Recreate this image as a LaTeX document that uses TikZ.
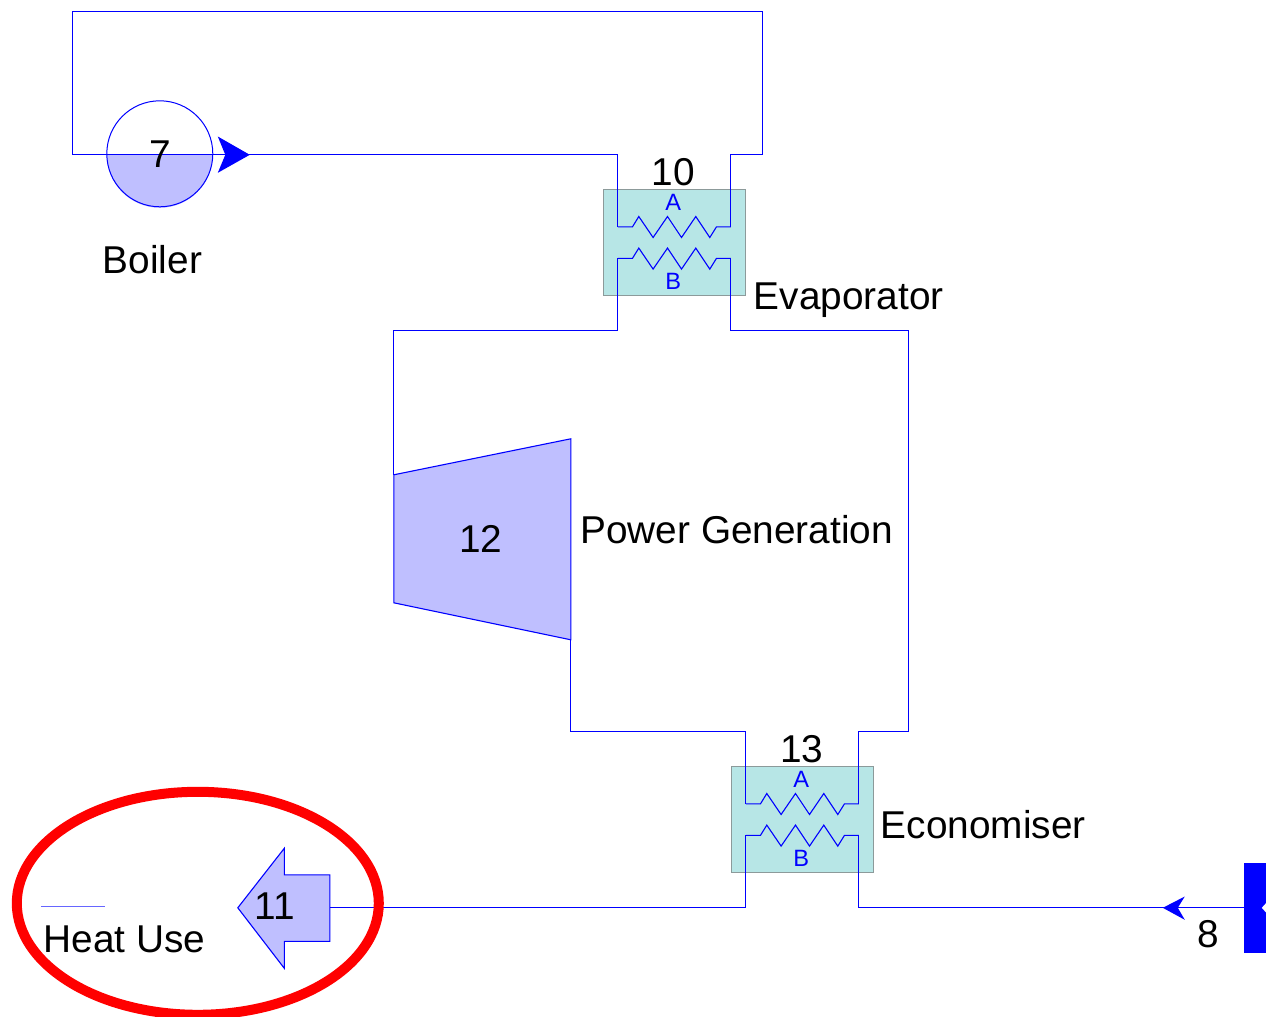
\documentclass[tikz,border=0pt]{standalone}
\usepackage{fontspec}
\usetikzlibrary{shapes.geometric}
\setmainfont{Liberation Sans}
\definecolor{flow}{HTML}{0000FF}
\definecolor{unitfill}{HTML}{BFBFFF}
\definecolor{hxfill}{HTML}{B7E6E6}
\definecolor{hxedge}{HTML}{8C9A9A}
\tikzset{
  pipe/.style={draw=flow,line width=0.55pt,line join=miter},
  unit/.style={draw=flow,fill=unitfill,line width=0.55pt,line join=miter},
  tip/.style={fill=flow,draw=none},
  lbl/.style={inner sep=0pt,outer sep=0pt,text=black,font=\fontsize{19.4}{21}\selectfont},
  lblw/.style={lbl,anchor=base west},
  lblc/.style={lbl,anchor=base},
  port/.style={inner sep=0pt,outer sep=0pt,text=flow,anchor=base,font=\fontsize{11.8}{13}\selectfont},
  hx/.pic={
    \node[draw=hxedge,fill=hxfill,line width=0.5pt,minimum width=70.75pt,minimum height=53pt,inner sep=0pt,outer sep=0pt,anchor=north west] (-box) at (0,0) {};
    \coordinate (-al) at (14,37);
    \coordinate (-ar) at (127,37);
    \coordinate (-bl) at (14,68.5);
    \coordinate (-br) at (127,68.5);
    \draw[pipe] (-al) -- (28.7,37) -- (35,26.7) -- (49.3,47.7) -- (63.7,26.7) -- (77.7,47.7) -- (92,26.7) -- (106,47.7) -- (112.7,37) -- (-ar);
    \draw[pipe] (-bl) -- (28.7,68.5) -- (35,58.3) -- (49.3,79.3) -- (63.7,58.3) -- (77.7,79.3) -- (92,58.3) -- (106,79.3) -- (112.7,68.5) -- (-br);
    \node[port] (-a) at (69.5,20.7) {A};
    \node[port] (-b) at (69.5,99.5) {B};
  }
}
\begin{document}
\begin{tikzpicture}[x=0.5pt,y=-0.5pt]
\useasboundingbox (0.2,0.2) rectangle (1266.2,1017.2);
\clip (0.2,0.2) rectangle (1266.2,1017.2);

% heat exchangers
\pic (evap) at (604,190) {hx};
\pic (econ) at (732,767) {hx};

% corner and end points of the pipes
\coordinate (loopA) at (73,155);
\coordinate (loopB) at (73,12);
\coordinate (loopC) at (763,12);
\coordinate (loopD) at (763,155);
\coordinate (loopE) at (731,155);
\coordinate (loopF) at (618,155);
\coordinate (turbIn) at (394,475);
\coordinate (turbOut) at (571,640);
\coordinate (useIn) at (330,908);
\coordinate (srcOut) at (1244,908);

% pipes
\draw[pipe] (evap-al) -- (loopF) -- (loopA) -- (loopB) -- (loopC) -- (loopD) -- (loopE) -- (evap-ar);
\draw[pipe] (evap-bl) -- (618,331) -- (394,331) -- (turbIn);
\draw[pipe] (turbOut) -- (571,732) -- (746,732) -- (econ-al);
\draw[pipe] (econ-ar) -- (859,732) -- (909,732) -- (909,331) -- (731,331) -- (evap-br);
\draw[pipe] (econ-bl) -- (746,908) -- (useIn);
\draw[pipe] (econ-br) -- (859,908) -- (srcOut);

% boiler
\fill[unitfill] (107,155) arc[start angle=180,end angle=0,radius=53] -- cycle;
\node[draw=flow,line width=0.5pt,circle,minimum size=53pt,inner sep=0pt,outer sep=0pt] (boiler) at (160,154) {};
\draw[pipe] (loopA) -- (loopF);
\fill[tip] (250,155) -- (218,136.7) -- (225.5,155) -- (218,173) -- cycle;

% turbine
\draw[unit] (turbIn) -- (571,439) -- (turbOut) -- (394,603) -- cycle;

% heat use arrow
\draw[unit] (238,908) -- (284.5,848.5) -- (284.5,875) -- (330,875) -- (330,941.5) -- (284.5,941.5) -- (284.5,968.5) -- cycle;
\coordinate (legendA) at (41,906.5);
\coordinate (legendB) at (105.5,906.5);
\draw[draw=flow!60,line width=0.6pt] (legendA) -- (legendB);

% source
\fill[tip] (1244,863.5) rectangle (1267,952.7);
\fill[white] (1262,908) -- (1267,902.5) -- (1267,913.5) -- cycle;
\fill[tip] (1163,908) -- (1185,896.7) -- (1178,908) -- (1185,920) -- cycle;

% labels
\node[lblc] (n7) at (160,168) {7};
\node[lblc] (n10) at (673.5,186) {10};
\node[lblc] (n12) at (481,552.5) {12};
\node[lblc] (n13) at (802,763) {13};
\node[lblc] (n11) at (275,920) {11};
\node[lblc] (n8) at (1208,948) {8};
\node[lblw] (tBoiler) at (103,274) {Boiler};
\node[lblw] (tEvap) at (754,310) {Evaporator};
\node[lblw] (tPower) at (580.5,544) {Power Generation};
\node[lblw] (tEcon) at (881,839) {Economiser};
\node[lblw] (tHeat) at (44,953) {Heat Use};

% highlight
\node[draw=red,line width=5pt,ellipse,minimum width=181pt,minimum height=111.5pt,inner sep=0pt,outer sep=0pt] (mark) at (198,903.5) {};
\end{tikzpicture}
\end{document}
